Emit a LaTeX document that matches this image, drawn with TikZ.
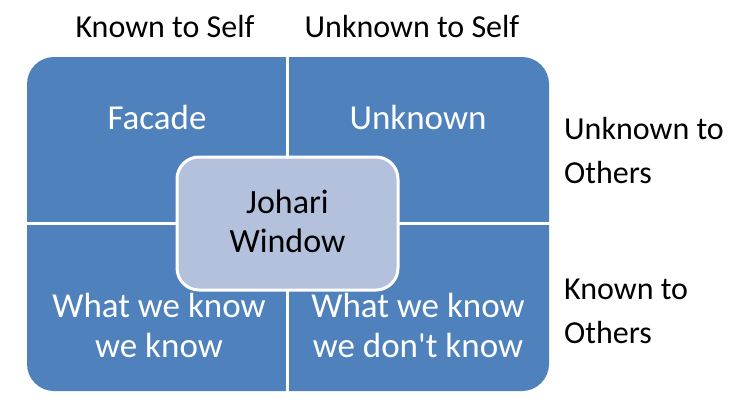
\documentclass[tikz,border=0pt]{standalone}
\usepackage{fontspec}
\setmainfont{Carlito}[Ligatures=TeXOff]
\definecolor{quadblue}{HTML}{4F81BD}
\definecolor{centerfill}{HTML}{B3C1DD}
\begin{document}
\begin{tikzpicture}[x=1pt,y=-1pt,
  quadtext/.style={text=white,font=\fontsize{35}{40}\selectfont,align=center,inner sep=0pt,anchor=base},
  sidetext/.style={text=black,font=\fontsize{32}{44}\selectfont,align=left,inner sep=0pt,anchor=base west},
  headtext/.style={text=black,font=\fontsize{32}{38}\selectfont,inner sep=0pt,anchor=base},
  centerbox/.style={fill=centerfill,draw=white,line width=3pt,rounded corners=22pt,
    minimum width=221pt,minimum height=133pt,inner sep=0pt},
  centertext/.style={font=\fontsize{34}{39}\selectfont,align=center,text=black,inner sep=0pt,anchor=base}]
\useasboundingbox (0,0) rectangle (742,410);
% outer window
\fill[quadblue,rounded corners=27pt] (27,57) rectangle (549,391);
\draw[white,line width=3pt] (287.5,55) -- (287.5,393);
\draw[white,line width=3pt] (25,223.5) -- (551,223.5);
% centre box
\node[centerbox] (johari) at (287.5,223.5) {};
\node[centertext] (johtext) at (287.5,252) {Johari\\Window};
% quadrant texts
\node[quadtext] (facade) at (157,129) {Facade};
\node[quadtext] (unknown) at (418,129) {Unknown};
\node[quadtext] (wkwk) at (159,357) {What we know\\we know};
\node[quadtext] (wkwdk) at (418,357) {What we know\\we don't know};
% headers
\node[headtext] (kself) at (165,37) {Known to Self};
\node[headtext] (uself) at (412,37) {Unknown to Self};
% side labels
\node[sidetext] (uothers) at (564,183) {Unknown to\\Others};
\node[sidetext] (kothers) at (564,343) {Known to\\Others};
\end{tikzpicture}
\end{document}
